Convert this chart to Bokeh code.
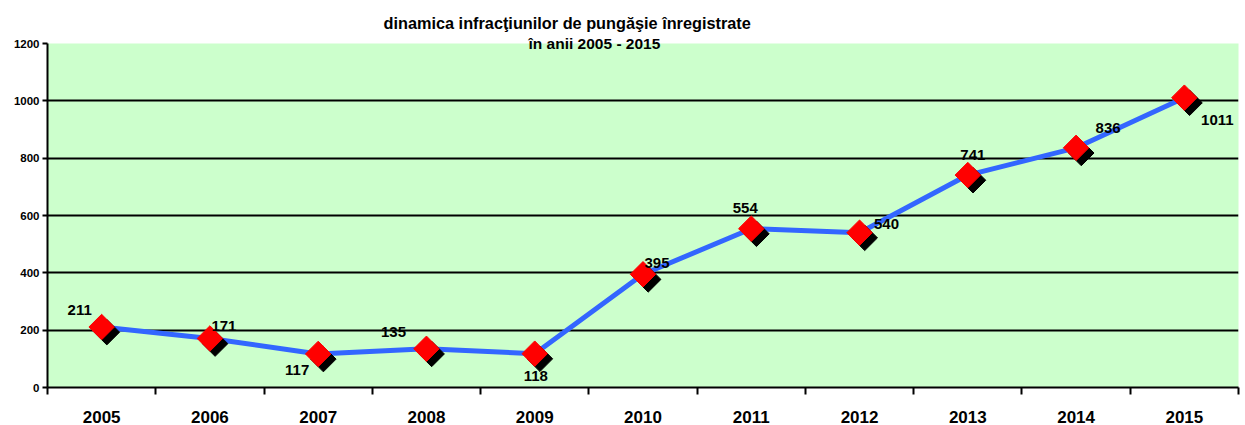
import math
from bokeh.plotting import figure
from bokeh.models import ColumnDataSource, FixedTicker, Title
from bokeh.core.properties import value
from bokeh.transform import dodge
from bokeh.embed import file_html
from bokeh.resources import INLINE

years = ["2005", "2006", "2007", "2008", "2009", "2010", "2011", "2012", "2013", "2014", "2015"]
counts = [211, 171, 117, 135, 118, 395, 554, 540, 741, 836, 1011]
y_ticks = [0, 200, 400, 600, 800, 1000, 1200]
title_line1 = "dinamica infracţiunilor de pungăşie înregistrate"
title_line2 = "în anii 2005 - 2015"

# label placement (screen pixels, styling only)
label_dx = [-22, 14, -21, -33, 1, 14, -6, 27, 5, 32, 33]
label_dy = [-17, -12, 16, -17, 22, -11, -21, -9, -20, -20, 22]

xs = [i + 0.5 for i in range(len(years))]
src = ColumnDataSource(dict(x=xs, y=counts, lbl=[str(c) for c in counts],
                            dx=label_dx, dy=label_dy))

FONT = "Liberation Sans"

p = figure(width=1241, height=425, output_backend="svg", toolbar_location=None,
           x_range=(0, len(years)), y_range=(0, 1200),
           min_border_left=47, min_border_right=3, min_border_top=43, min_border_bottom=37)
p.background_fill_color = "#CCFFCC"
p.border_fill_color = "white"
p.outline_line_color = None

# titles: line 2 nearest the frame, overlapping its top edge
t2 = Title(text=title_line2, align="left", offset=528 - 47, standoff=-16,
           text_font=FONT, text_font_style="bold", text_font_size="15.5px", text_color="black")
t1 = Title(text=title_line1, align="left", offset=383 - 47, standoff=18,
           text_font=FONT, text_font_style="bold", text_font_size="16.3px", text_color="black")
p.add_layout(t2, "above")
p.add_layout(t1, "above")

# grid
p.xgrid.grid_line_color = None
p.ygrid.ticker = FixedTicker(ticks=y_ticks)
p.ygrid.grid_line_color = "black"
p.ygrid.grid_line_width = 2
p.ygrid.grid_line_alpha = 1.0

# y axis
p.yaxis.ticker = FixedTicker(ticks=y_ticks)
p.yaxis.axis_line_color = "black"
p.yaxis.axis_line_width = 2
p.yaxis.major_tick_out = 5
p.yaxis.major_tick_in = 0
p.yaxis.major_tick_line_width = 2
p.yaxis.minor_tick_line_color = None
p.yaxis.major_label_text_font = FONT
p.yaxis.major_label_text_font_style = "bold"
p.yaxis.major_label_text_font_size = "11.5px"
p.yaxis.major_label_text_color = "black"
p.yaxis.major_label_standoff = 3

# x axis: labels at category centres, ticks at category boundaries
p.xaxis.ticker = FixedTicker(ticks=xs, minor_ticks=list(range(len(years) + 1)))
p.xaxis.major_label_overrides = {x: y for x, y in zip(xs, years)}
p.xaxis.axis_line_color = "black"
p.xaxis.axis_line_width = 2
p.xaxis.major_tick_line_color = None
p.xaxis.major_tick_out = 0
p.xaxis.major_tick_in = 0
p.xaxis.minor_tick_out = 7
p.xaxis.minor_tick_in = 0
p.xaxis.minor_tick_line_width = 2
p.xaxis.minor_tick_line_color = "black"
p.xaxis.major_label_text_font = FONT
p.xaxis.major_label_text_font_style = "bold"
p.xaxis.major_label_text_font_size = "17px"
p.xaxis.major_label_text_color = "black"
p.xaxis.major_label_standoff = 16

# series
p.line("x", "y", source=src, line_color="#3366FF", line_width=5)
p.scatter(dodge("x", 0.048, range=p.x_range), dodge("y", -18, range=p.y_range), source=src,
          marker="square", size=18, angle=math.pi / 4,
          fill_color="black", line_color="black")
p.scatter("x", "y", source=src, marker="square", size=18, angle=math.pi / 4,
          fill_color="#FF0000", line_color="#FF0000")
p.text("x", "y", text="lbl", source=src, x_offset="dx", y_offset="dy",
       text_font=value(FONT), text_font_style="bold", text_font_size="15px",
       text_align="center", text_baseline="middle", text_color="black")

open("out.html", "w").write(file_html(p, INLINE))
